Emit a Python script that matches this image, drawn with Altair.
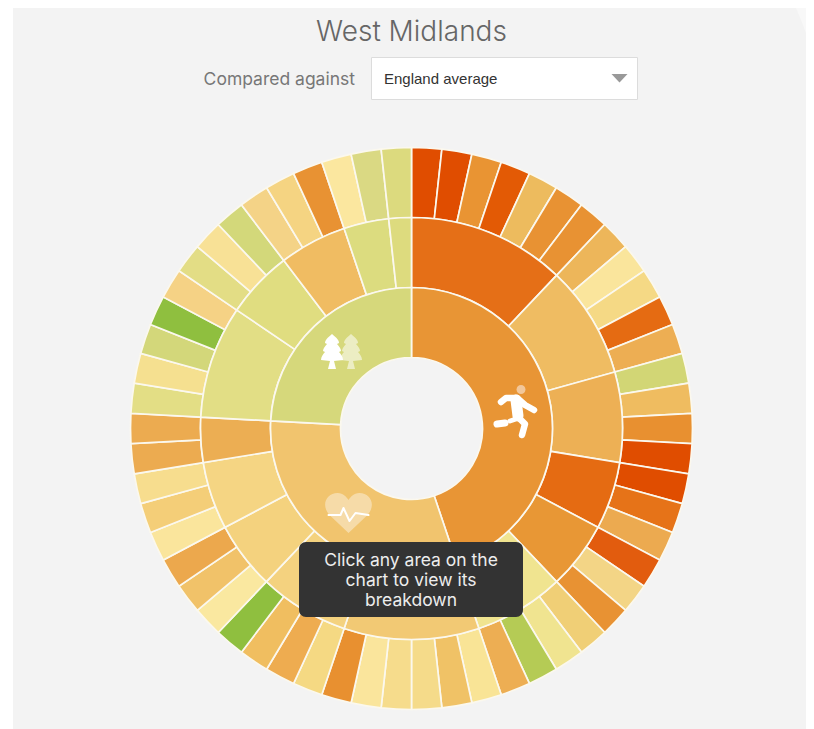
import altair as alt
import pandas as pd

TITLE = "West Midlands"
COMPARE_LABEL = "Compared against"
COMPARE_VALUE = "England average"
HINT = "Click any area on the\nchart to view its\nbreakdown"

# innermost ring: number of outermost cells and colour per domain
domain_colors = ["#E89535", "#F1C46E", "#D6D87B"]
# middle ring: number of outer cells under each segment, and colour
middle_sizes = [7, 5, 4, 3, 3, 4, 6, 4, 3, 3, 2, 5, 3, 3, 2, 1]
middle_colors = [
    "#E56F17", "#EFBC62", "#EDB055", "#E56B12", "#E89735", "#F0E490",
    "#F2C974", "#F4D27F", "#F4D27E", "#F5D583", "#ECAE53",
    "#E2DE85", "#E0DD80", "#F0BC62", "#DCDC7F", "#DDDB7E",
]
middle_per_domain = [6, 5, 5]
# outer ring, clockwise from twelve o'clock
outer_colors = [
    "#E04D00", "#E04D00", "#E99433", "#E35A05", "#EDBB5E", "#E89233", "#E89233",
    "#EDB65A", "#FAE59C", "#F5D985", "#E56B12", "#EDAE53",
    "#D2D675", "#EFBC60", "#E89030", "#E04D00",
    "#E04D00", "#E67318", "#ECAA50",
    "#E25C0E", "#F3D586", "#E89233",
    "#F0CF76", "#F0E490", "#B5CB55", "#EDAE53",
    "#F9E496", "#F0C266", "#F5DB8A", "#F6DC8C", "#FAE59C", "#E89030",
    "#F5D983", "#EEAC50", "#F0BE60", "#8FBF3F",
    "#FAE8A0", "#F1C269", "#ECA84D",
    "#FAE59C", "#F4CE78", "#F7DD8E",
    "#ECAB50", "#ECAB50",
    "#E3DE85", "#F5E090", "#D3D77A", "#8FBF3F", "#F5D285",
    "#E3DD85", "#F8E196", "#D3D87A",
    "#F4D387", "#F5D482", "#E89233",
    "#FBE79F", "#DAD983",
    "#DCDA7E",
]

rows = []
for i, c in enumerate(outer_colors):
    rows.append(dict(ring=2, r1=3, start=i, end=i + 1, color=c))
pos = 0
mi = 0
for d, n in enumerate(middle_per_domain):
    d_start = pos
    for _ in range(n):
        rows.append(dict(ring=1, r1=2, start=pos, end=pos + middle_sizes[mi], color=middle_colors[mi]))
        pos += middle_sizes[mi]
        mi += 1
    rows.append(dict(ring=0, r1=1, start=d_start, end=pos, color=domain_colors[d]))
df = pd.DataFrame(rows)

W, H = 798, 721
PAGE = 8
CX, CY = 411.5 - PAGE, 428.5 - PAGE
BG = "#F3F3F3"
EDGE = "#FBF8EE"


def vx(v):
    return alt.value(v - PAGE)


one = pd.DataFrame({"k": [0]})


def box(x0, x1, y0, y1, **kw):
    return alt.Chart(one).mark_rect(**kw).encode(x=vx(x0), x2=vx(x1), y=vx(y0), y2=vx(y1))


def glyph(path, x, y, **kw):
    opts = dict(shape=path, size=4, opacity=1)
    opts.update(kw)
    return alt.Chart(one).mark_point(**opts).encode(x=vx(x), y=vx(y))


def label(text, x, y, **kw):
    return alt.Chart(one).mark_text(text=text, **kw).encode(x=vx(x), y=vx(y))


panel = box(13, 814, 7, 729, color=BG)
sliver = glyph("M-18,-26 L0,-26 L0,26 C-4,10 -10,-8 -18,-26 Z", 814, 34, filled=True, fill="#F8F8F8", strokeWidth=0)

arcs = alt.Chart(df).mark_arc(stroke=EDGE, strokeWidth=1.7).encode(
    theta=alt.Theta("start:Q", scale=alt.Scale(domain=[0, 58], range=[0, 6.283185307])),
    theta2="end:Q",
    radius=alt.Radius("ring:Q", scale=alt.Scale(type="linear", domain=[0, 3], range=[71, 281], zero=False, nice=False)),
    radius2="r1:Q",
    color=alt.Color("color:N", scale=None),
    x=alt.value(CX),
    y=alt.value(CY),
)

# runner
head = glyph("M-4.5,0 A4.5,4.5 0 1,1 4.5,0 A4.5,4.5 0 1,1 -4.5,0 Z", 521, 389.5, filled=True, fill="#F2C79A", strokeWidth=0)
runner_limbs = glyph(
    "M-16,0 L-11,-4 L0,-4 L8,3 L17,8 M0,-4 L2,16 L8,22 L5,33",
    517, 402, filled=False, stroke="white", strokeWidth=6.5, strokeCap="round", strokeJoin="round",
)
runner_foot = glyph("M-20,22 L-12,21", 517, 402, filled=False, stroke="white", strokeWidth=7, strokeCap="round")
runner_thigh = glyph("M-7,19 L2,16", 517, 402, filled=False, stroke="white", strokeWidth=5, strokeCap="round")
runner_torso = glyph("M-1,-2 L1,14", 517, 402, filled=False, stroke="white", strokeWidth=11, strokeCap="round")

# trees
TREE = ("M0,-18 C2,-16 7,-13 7,-9 L5,-8 C7,-6 9,-3 9,-1 L7,0 C9,2 11,5 11,8 "
        "L2,9 L4,17 L-4,17 L-2,9 L-11,8 C-11,5 -9,2 -7,0 L-9,-1 C-9,-3 -7,-6 -5,-8 L-7,-9 C-7,-13 -2,-16 0,-18 Z")
tree_back = glyph(TREE, 351, 352, filled=True, fill="white", strokeWidth=0, opacity=0.55)
tree_front = glyph(TREE, 332, 352, filled=True, fill="white", strokeWidth=0)

# heart
HEART = ("M0,20 L-19,2 C-28,-8 -22,-20 -11,-20 C-5,-20 -2,-16 0,-13 "
         "C2,-16 5,-20 11,-20 C22,-20 28,-8 19,2 Z")
heart = glyph(HEART, 348.5, 513, filled=True, fill="white", strokeWidth=0, opacity=0.4)
pulse = glyph("M-20,2 L-8,2 L-5,-5 L1,8 L7,0 L20,2", 348.5, 513, filled=False, stroke="white",
              strokeWidth=2, strokeJoin="round", strokeCap="round")

tip = box(299, 523, 542, 617, color="#333333", cornerRadius=7)
tip_text = label(HINT, 411, 561, font="Inter", fontSize=17.5, color="#EDEDED", align="center",
                 baseline="middle", lineBreak="\n", lineHeight=20)

title = label(TITLE, 411.5, 32.5, font="Inter", fontSize=28, fontWeight=300, color="#666666",
              align="center", baseline="middle")
cmp_lab = label(COMPARE_LABEL, 355, 79.5, font="Inter", fontSize=17.5, color="#777777",
                align="right", baseline="middle")
select = box(371.5, 637.5, 57.5, 99.5, color="white", stroke="#DCDCDC", strokeWidth=1)
select_txt = label(COMPARE_VALUE, 384, 78.5, font="Liberation Sans", fontSize=15, color="#333333",
                   align="left", baseline="middle")
arrow = glyph("M-8,-4 L8,-4 L0,4.5 Z", 619.5, 78, filled=True, fill="#999999", strokeWidth=0)

chart = alt.layer(
    panel, sliver, arcs, head, runner_limbs, runner_thigh, runner_foot, runner_torso,
    tree_back, tree_front, heart, pulse,
    tip, tip_text, title, cmp_lab, select, select_txt, arrow,
).properties(
    width=W, height=H, padding=0, background="white",
    autosize=alt.AutoSizeParams(type="none"),
).configure_view(stroke=None)

chart.save("out.html", embed_options={"renderer": "svg", "actions": False})
